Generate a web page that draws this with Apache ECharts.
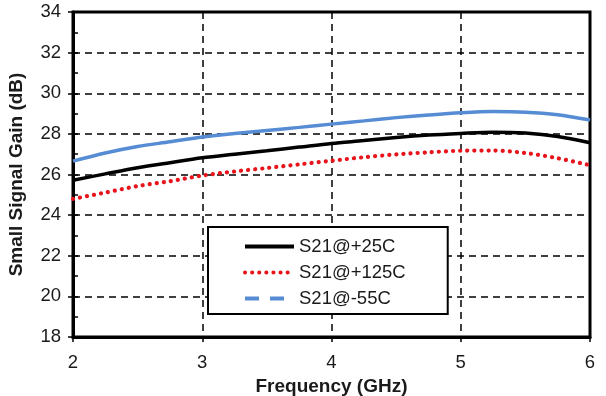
<!DOCTYPE html>
<html>
<head>
<meta charset="utf-8">
<script src="https://cdn.jsdelivr.net/npm/echarts@6/dist/echarts.min.js"></script>
<style>
  html, body { margin: 0; padding: 0; background: #fff; }
  #chart { width: 606px; height: 396px; }
</style>
</head>
<body>
<div id="chart"></div>
<script>
// frequency points (GHz)
const freq = [2, 2.25, 2.5, 2.75, 3, 3.25, 3.5, 3.75, 4, 4.25, 4.5, 4.75, 5, 5.25, 5.5, 5.75, 6];

// gain values (dB)
const gain25 = [25.72, 26.03, 26.33, 26.58, 26.82, 27.0, 27.17, 27.35, 27.53, 27.67, 27.82, 27.94, 28.02, 28.08, 28.04, 27.87, 27.56];
const gain125 = [24.8, 25.11, 25.43, 25.67, 25.95, 26.15, 26.32, 26.5, 26.68, 26.85, 26.99, 27.09, 27.17, 27.18, 27.06, 26.8, 26.46];
const gainM55 = [26.66, 27.06, 27.38, 27.61, 27.85, 28.02, 28.17, 28.32, 28.48, 28.64, 28.8, 28.93, 29.04, 29.1, 29.07, 28.94, 28.68];

const seriesNames = ['S21@+25C', 'S21@+125C', 'S21@-55C'];

const toPairs = vals => freq.map((f, i) => [f, vals[i]]);

const chart = echarts.init(document.getElementById('chart'));

const labelFont = 'Liberation Sans, Arial, sans-serif';
const textColor = '#1a1a1a';
const gridLine = { show: true, lineStyle: { color: '#000', width: 1.5, type: [7, 5] } };

const dotStyle = { color: '#e8141c', width: 4.2, type: [0.1, 7], cap: 'round' };

const option = {
  animation: false,
  grid: {
    left: 73, right: 16, top: 12, bottom: 59,
    outerBoundsMode: 'none',
    show: true, borderColor: '#000', borderWidth: 3, backgroundColor: 'transparent'
  },
  legend: {
    orient: 'vertical',
    left: 208,
    top: 227,
    padding: [10, 42, 6, 35],
    itemGap: 7,
    itemWidth: 49,
    itemHeight: 14,
    backgroundColor: '#fff',
    borderColor: '#000',
    borderWidth: 2,
    borderRadius: 0,
    itemStyle: { opacity: 0 },
    textStyle: { fontSize: 18.5, color: textColor, fontFamily: labelFont },
    data: [
      { name: seriesNames[0], lineStyle: { color: '#000', width: 4, type: 'solid' } },
      { name: seriesNames[1], lineStyle: { color: '#e8141c', width: 4, type: [0.1, 7], cap: 'round' } },
      { name: seriesNames[2], lineStyle: { color: '#568cd4', width: 4, type: [14, 11] } }
    ]
  },
  xAxis: {
    type: 'value',
    min: 2, max: 6, interval: 1,
    name: 'Frequency (GHz)',
    nameLocation: 'middle',
    nameGap: 37,
    nameTextStyle: { fontSize: 19, fontWeight: 'bold', color: textColor, fontFamily: labelFont },
    axisLine: { lineStyle: { color: '#000', width: 3 } },
    axisTick: { show: true, length: 5, lineStyle: { color: '#000', width: 1.5 } },
    axisLabel: { fontSize: 18.5, color: textColor, margin: 16, fontFamily: labelFont },
    splitLine: gridLine
  },
  yAxis: [
    {
      type: 'value',
      min: 18, max: 34, interval: 2,
      name: 'Small Signal Gain (dB)',
      nameLocation: 'middle',
      nameGap: 47,
      nameTextStyle: { fontSize: 19, fontWeight: 'bold', color: textColor, fontFamily: labelFont },
      axisLine: { show: true, lineStyle: { color: '#000', width: 3 } },
      axisTick: { show: true, length: 5, lineStyle: { color: '#000', width: 1.5 } },
      axisLabel: { fontSize: 18.5, color: textColor, margin: 12, fontFamily: labelFont },
      splitLine: gridLine
    },
    {
      // inner minor ticks
      type: 'value',
      position: 'left',
      min: 18, max: 34, interval: 1,
      axisLine: { show: false },
      axisTick: { show: true, inside: true, length: 5, lineStyle: { color: '#000', width: 1.5 } },
      axisLabel: { show: false },
      splitLine: { show: false }
    }
  ],
  series: [
    {
      name: seriesNames[0],
      type: 'line',
      data: toPairs(gain25),
      smooth: 0.3,
      symbol: 'none',
      lineStyle: { color: '#000', width: 3.5 },
      itemStyle: { color: '#000' },
      z: 4
    },
    {
      name: seriesNames[1],
      type: 'line',
      data: toPairs(gain125),
      smooth: 0.3,
      symbol: 'none',
      lineStyle: dotStyle,
      itemStyle: { color: '#e8141c' },
      z: 3
    },
    {
      name: seriesNames[2],
      type: 'line',
      data: toPairs(gainM55),
      smooth: 0.3,
      symbol: 'none',
      lineStyle: { color: '#568cd4', width: 3.5 },
      itemStyle: { color: '#568cd4' },
      z: 2
    }
  ]
};

chart.setOption(option);
</script>
</body>
</html>
